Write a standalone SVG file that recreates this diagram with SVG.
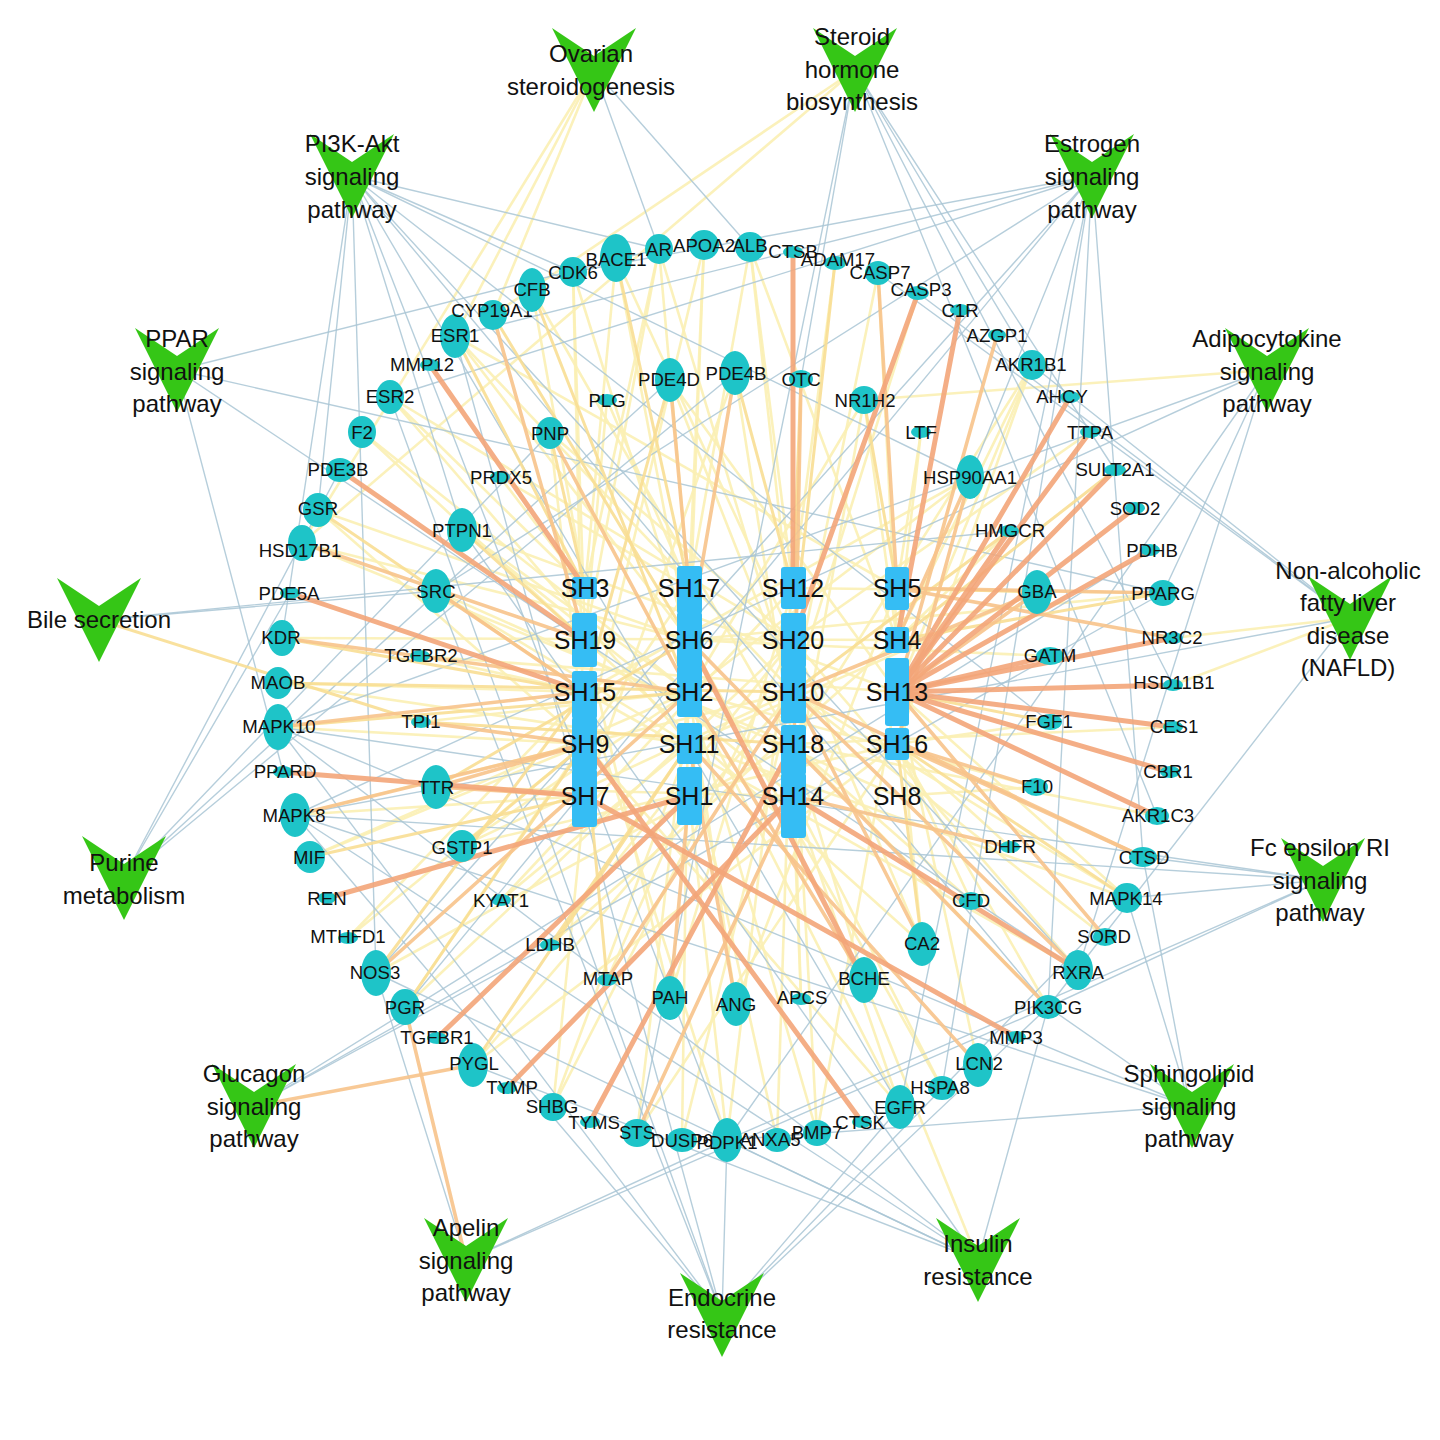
<svg xmlns="http://www.w3.org/2000/svg" width="1440" height="1440" viewBox="0 0 1440 1440">
<style>
text{font-family:"Liberation Sans",Arial,sans-serif;fill:#111;dominant-baseline:central;text-anchor:middle}
.gt{font-size:18.6px}
.st{font-size:25px}
.pt{font-size:24px}
.g{fill:#1ec4c8}
.sh{fill:#35bdf4}
#edges line{fill:none;stroke-linecap:round}
.e{stroke:#a9c5d5;stroke-width:1.4;opacity:.85}
.y1{stroke:#fbefb4;stroke-width:2.6;opacity:.9}
.y2{stroke:#f8de93;stroke-width:3;opacity:.9}
.o1{stroke:#f7c38b;stroke-width:3.6;opacity:.9}
.o2{stroke:#f3a579;stroke-width:5;opacity:.9}
</style>
<defs>
<path id="v" d="M-42,-42 L0,-14 L42,-42 L0,42 Z" fill="#35c616"/>
</defs>
<rect width="1440" height="1440" fill="#fff"/>
<g id="edges">
<!-- pale yellow compound edges -->
<line class="y1" x1="616" y1="258" x2="585" y2="588"/>
<line class="y1" x1="616" y1="258" x2="689" y2="640"/>
<line class="y1" x1="659" y1="249" x2="689" y2="588"/>
<line class="y1" x1="659" y1="249" x2="585" y2="640"/>
<line class="y1" x1="659" y1="249" x2="585" y2="588"/>
<line class="y1" x1="704" y1="245" x2="689" y2="640"/>
<line class="y1" x1="704" y1="245" x2="689" y2="588"/>
<line class="y1" x1="750" y1="247" x2="793" y2="588"/>
<line class="y1" x1="750" y1="247" x2="793" y2="640"/>
<line class="y1" x1="750" y1="247" x2="689" y2="588"/>
<line class="y1" x1="835" y1="263" x2="793" y2="588"/>
<line class="y1" x1="878" y1="273" x2="897" y2="640"/>
<line class="y1" x1="918" y1="293" x2="793" y2="692"/>
<line class="y1" x1="1032" y1="365" x2="897" y2="640"/>
<line class="y1" x1="1032" y1="365" x2="897" y2="692"/>
<line class="y1" x1="1032" y1="365" x2="897" y2="744"/>
<line class="y1" x1="1163" y1="593" x2="793" y2="588"/>
<line class="y1" x1="1127" y1="898" x2="793" y2="692"/>
<line class="y1" x1="1127" y1="898" x2="897" y2="692"/>
<line class="y1" x1="1105" y1="937" x2="793" y2="692"/>
<line class="y1" x1="1078" y1="970" x2="793" y2="640"/>
<line class="y1" x1="1048" y1="1007" x2="793" y2="744"/>
<line class="y1" x1="978" y1="1065" x2="897" y2="692"/>
<line class="y1" x1="942" y1="1088" x2="793" y2="796"/>
<line class="y1" x1="900" y1="1107" x2="793" y2="796"/>
<line class="y1" x1="900" y1="1107" x2="689" y2="692"/>
<line class="y1" x1="817" y1="1133" x2="793" y2="692"/>
<line class="y1" x1="817" y1="1133" x2="689" y2="692"/>
<line class="y1" x1="777" y1="1140" x2="793" y2="640"/>
<line class="y1" x1="777" y1="1140" x2="689" y2="744"/>
<line class="y1" x1="727" y1="1140" x2="689" y2="796"/>
<line class="y1" x1="727" y1="1140" x2="793" y2="588"/>
<line class="y1" x1="682" y1="1140" x2="689" y2="640"/>
<line class="y1" x1="637" y1="1133" x2="689" y2="692"/>
<line class="y1" x1="553" y1="1107" x2="689" y2="744"/>
<line class="y1" x1="553" y1="1107" x2="793" y2="640"/>
<line class="y1" x1="473" y1="1065" x2="793" y2="692"/>
<line class="y1" x1="405" y1="1007" x2="689" y2="588"/>
<line class="y1" x1="348" y1="938" x2="585" y2="744"/>
<line class="y1" x1="348" y1="938" x2="585" y2="692"/>
<line class="y1" x1="310" y1="857" x2="585" y2="744"/>
<line class="y1" x1="295" y1="815" x2="585" y2="796"/>
<line class="y1" x1="278" y1="727" x2="585" y2="744"/>
<line class="y1" x1="278" y1="683" x2="585" y2="692"/>
<line class="y1" x1="302" y1="543" x2="689" y2="640"/>
<line class="y1" x1="318" y1="510" x2="689" y2="640"/>
<line class="y1" x1="362" y1="432" x2="585" y2="640"/>
<line class="y1" x1="362" y1="432" x2="689" y2="692"/>
<line class="y1" x1="390" y1="397" x2="585" y2="588"/>
<line class="y1" x1="390" y1="397" x2="793" y2="640"/>
<line class="y1" x1="455" y1="336" x2="689" y2="640"/>
<line class="y1" x1="455" y1="336" x2="793" y2="692"/>
<line class="y1" x1="532" y1="290" x2="585" y2="588"/>
<line class="y1" x1="573" y1="272" x2="689" y2="640"/>
<line class="y1" x1="573" y1="272" x2="585" y2="640"/>
<line class="y1" x1="670" y1="380" x2="793" y2="692"/>
<line class="y1" x1="735" y1="373" x2="793" y2="744"/>
<line class="y1" x1="801" y1="379" x2="793" y2="692"/>
<line class="y1" x1="864" y1="400" x2="897" y2="640"/>
<line class="y1" x1="864" y1="400" x2="793" y2="796"/>
<line class="y1" x1="921" y1="432" x2="897" y2="588"/>
<line class="y1" x1="921" y1="432" x2="897" y2="640"/>
<line class="y1" x1="970" y1="477" x2="689" y2="692"/>
<line class="y1" x1="1009" y1="531" x2="897" y2="640"/>
<line class="y1" x1="1050" y1="722" x2="897" y2="744"/>
<line class="y1" x1="1036" y1="787" x2="897" y2="796"/>
<line class="y1" x1="1010" y1="847" x2="897" y2="744"/>
<line class="y1" x1="971" y1="901" x2="897" y2="744"/>
<line class="y1" x1="971" y1="901" x2="793" y2="744"/>
<line class="y1" x1="922" y1="944" x2="897" y2="692"/>
<line class="y1" x1="922" y1="944" x2="793" y2="640"/>
<line class="y1" x1="864" y1="980" x2="793" y2="744"/>
<line class="y1" x1="801" y1="999" x2="793" y2="744"/>
<line class="y1" x1="801" y1="999" x2="793" y2="796"/>
<line class="y1" x1="736" y1="1004" x2="689" y2="692"/>
<line class="y1" x1="670" y1="998" x2="793" y2="588"/>
<line class="y1" x1="607" y1="980" x2="689" y2="796"/>
<line class="y1" x1="550" y1="945" x2="793" y2="640"/>
<line class="y1" x1="501" y1="900" x2="689" y2="744"/>
<line class="y1" x1="501" y1="900" x2="793" y2="588"/>
<line class="y1" x1="462" y1="846" x2="689" y2="692"/>
<line class="y1" x1="462" y1="846" x2="793" y2="692"/>
<line class="y1" x1="436" y1="787" x2="793" y2="796"/>
<line class="y1" x1="421" y1="722" x2="689" y2="692"/>
<line class="y1" x1="420" y1="656" x2="585" y2="692"/>
<line class="y1" x1="420" y1="656" x2="897" y2="692"/>
<line class="y1" x1="436" y1="591" x2="689" y2="744"/>
<line class="y1" x1="462" y1="530" x2="689" y2="692"/>
<line class="y1" x1="462" y1="530" x2="897" y2="692"/>
<line class="y1" x1="500" y1="477" x2="585" y2="588"/>
<line class="y1" x1="500" y1="477" x2="689" y2="588"/>
<line class="y1" x1="550" y1="433" x2="585" y2="744"/>
<line class="y1" x1="607" y1="400" x2="689" y2="588"/>
<line class="y1" x1="607" y1="400" x2="585" y2="640"/>
<line class="y1" x1="616" y1="258" x2="793" y2="640"/>
<line class="y1" x1="659" y1="249" x2="793" y2="692"/>
<line class="y1" x1="704" y1="245" x2="585" y2="744"/>
<line class="y1" x1="750" y1="247" x2="897" y2="640"/>
<line class="y1" x1="878" y1="273" x2="793" y2="692"/>
<line class="y1" x1="1032" y1="365" x2="793" y2="744"/>
<line class="y1" x1="1090" y1="432" x2="793" y2="640"/>
<line class="y1" x1="1163" y1="593" x2="689" y2="640"/>
<line class="y1" x1="1173" y1="727" x2="793" y2="744"/>
<line class="y1" x1="1157" y1="816" x2="793" y2="744"/>
<line class="y1" x1="1127" y1="898" x2="689" y2="744"/>
<line class="y1" x1="1078" y1="970" x2="585" y2="692"/>
<line class="y1" x1="1048" y1="1007" x2="897" y2="744"/>
<line class="y1" x1="942" y1="1088" x2="689" y2="640"/>
<line class="y1" x1="900" y1="1107" x2="585" y2="744"/>
<line class="y1" x1="817" y1="1133" x2="897" y2="692"/>
<line class="y1" x1="727" y1="1140" x2="585" y2="692"/>
<line class="y1" x1="682" y1="1140" x2="793" y2="692"/>
<line class="y1" x1="637" y1="1133" x2="897" y2="744"/>
<line class="y1" x1="553" y1="1107" x2="585" y2="796"/>
<line class="y1" x1="473" y1="1065" x2="897" y2="744"/>
<line class="y1" x1="405" y1="1007" x2="793" y2="640"/>
<line class="y1" x1="376" y1="973" x2="793" y2="744"/>
<line class="y1" x1="310" y1="857" x2="689" y2="692"/>
<line class="y1" x1="295" y1="815" x2="793" y2="692"/>
<line class="y1" x1="278" y1="683" x2="689" y2="744"/>
<line class="y1" x1="282" y1="638" x2="897" y2="640"/>
<line class="y1" x1="302" y1="543" x2="793" y2="744"/>
<line class="y1" x1="318" y1="510" x2="585" y2="744"/>
<line class="y1" x1="390" y1="397" x2="689" y2="744"/>
<line class="y1" x1="455" y1="336" x2="897" y2="588"/>
<line class="y1" x1="532" y1="290" x2="793" y2="744"/>
<line class="y1" x1="573" y1="272" x2="585" y2="796"/>
<line class="y1" x1="670" y1="380" x2="897" y2="692"/>
<line class="y1" x1="735" y1="373" x2="585" y2="796"/>
<line class="y1" x1="864" y1="400" x2="689" y2="692"/>
<line class="y1" x1="970" y1="477" x2="585" y2="692"/>
<line class="y1" x1="1037" y1="592" x2="689" y2="744"/>
<line class="y1" x1="1050" y1="656" x2="689" y2="640"/>
<line class="y1" x1="1036" y1="787" x2="689" y2="692"/>
<line class="y1" x1="922" y1="944" x2="585" y2="640"/>
<line class="y1" x1="736" y1="1004" x2="897" y2="588"/>
<line class="y1" x1="670" y1="998" x2="585" y2="640"/>
<line class="y1" x1="550" y1="945" x2="897" y2="640"/>
<line class="y1" x1="462" y1="846" x2="897" y2="744"/>
<line class="y1" x1="436" y1="591" x2="897" y2="796"/>
<line class="y1" x1="462" y1="530" x2="793" y2="796"/>
<line class="y1" x1="550" y1="433" x2="793" y2="640"/>
<line class="y1" x1="594" y1="70" x2="455" y2="336"/>
<line class="y1" x1="594" y1="70" x2="493" y2="315"/>
<line class="y1" x1="594" y1="70" x2="302" y2="543"/>
<line class="y1" x1="855" y1="70" x2="493" y2="315"/>
<line class="y1" x1="855" y1="70" x2="302" y2="543"/>
<line class="y1" x1="1350" y1="618" x2="1173" y2="638"/>
<line class="y1" x1="1350" y1="618" x2="1173" y2="685"/>
<line class="y1" x1="1267" y1="370" x2="864" y2="400"/>
<line class="y1" x1="978" y1="1260" x2="864" y2="980"/>
<!-- pathway edges -->
<line class="e" x1="594" y1="70" x2="750" y2="247"/>
<line class="e" x1="594" y1="70" x2="659" y2="249"/>
<line class="e" x1="855" y1="70" x2="801" y2="379"/>
<line class="e" x1="855" y1="70" x2="1032" y2="365"/>
<line class="e" x1="855" y1="70" x2="1115" y2="470"/>
<line class="e" x1="855" y1="70" x2="1157" y2="816"/>
<line class="e" x1="855" y1="70" x2="1173" y2="685"/>
<line class="e" x1="855" y1="70" x2="637" y2="1133"/>
<line class="e" x1="352" y1="176" x2="573" y2="272"/>
<line class="e" x1="352" y1="176" x2="659" y2="249"/>
<line class="e" x1="352" y1="176" x2="970" y2="477"/>
<line class="e" x1="352" y1="176" x2="1050" y2="722"/>
<line class="e" x1="352" y1="176" x2="282" y2="638"/>
<line class="e" x1="352" y1="176" x2="318" y2="510"/>
<line class="e" x1="352" y1="176" x2="727" y2="1140"/>
<line class="e" x1="352" y1="176" x2="1048" y2="1007"/>
<line class="e" x1="352" y1="176" x2="376" y2="973"/>
<line class="e" x1="352" y1="176" x2="1078" y2="970"/>
<line class="e" x1="352" y1="176" x2="900" y2="1107"/>
<line class="e" x1="352" y1="176" x2="462" y2="530"/>
<line class="e" x1="1092" y1="176" x2="455" y2="336"/>
<line class="e" x1="1092" y1="176" x2="390" y2="397"/>
<line class="e" x1="1092" y1="176" x2="573" y2="272"/>
<line class="e" x1="1092" y1="176" x2="405" y2="1007"/>
<line class="e" x1="1092" y1="176" x2="436" y2="591"/>
<line class="e" x1="1092" y1="176" x2="900" y2="1107"/>
<line class="e" x1="1092" y1="176" x2="970" y2="477"/>
<line class="e" x1="1092" y1="176" x2="942" y2="1088"/>
<line class="e" x1="1092" y1="176" x2="376" y2="973"/>
<line class="e" x1="1092" y1="176" x2="1048" y2="1007"/>
<line class="e" x1="1092" y1="176" x2="1143" y2="857"/>
<line class="e" x1="177" y1="370" x2="1163" y2="593"/>
<line class="e" x1="177" y1="370" x2="283" y2="772"/>
<line class="e" x1="177" y1="370" x2="1078" y2="970"/>
<line class="e" x1="177" y1="370" x2="659" y2="249"/>
<line class="e" x1="1267" y1="370" x2="1163" y2="593"/>
<line class="e" x1="1267" y1="370" x2="1078" y2="970"/>
<line class="e" x1="1267" y1="370" x2="295" y2="815"/>
<line class="e" x1="1267" y1="370" x2="278" y2="727"/>
<line class="e" x1="1267" y1="370" x2="727" y2="1140"/>
<line class="e" x1="99" y1="620" x2="436" y2="591"/>
<line class="e" x1="99" y1="620" x2="1009" y2="531"/>
<line class="e" x1="1350" y1="618" x2="1032" y2="365"/>
<line class="e" x1="1350" y1="618" x2="918" y2="293"/>
<line class="e" x1="1350" y1="618" x2="878" y2="273"/>
<line class="e" x1="1350" y1="618" x2="295" y2="815"/>
<line class="e" x1="1350" y1="618" x2="1048" y2="1007"/>
<line class="e" x1="124" y1="878" x2="550" y2="433"/>
<line class="e" x1="124" y1="878" x2="670" y2="380"/>
<line class="e" x1="124" y1="878" x2="735" y2="373"/>
<line class="e" x1="124" y1="878" x2="290" y2="593"/>
<line class="e" x1="124" y1="878" x2="340" y2="470"/>
<line class="e" x1="1323" y1="880" x2="1127" y2="898"/>
<line class="e" x1="1323" y1="880" x2="1143" y2="857"/>
<line class="e" x1="1323" y1="880" x2="295" y2="815"/>
<line class="e" x1="1323" y1="880" x2="278" y2="727"/>
<line class="e" x1="1323" y1="880" x2="1048" y2="1007"/>
<line class="e" x1="1323" y1="880" x2="727" y2="1140"/>
<line class="e" x1="254" y1="1106" x2="550" y2="945"/>
<line class="e" x1="254" y1="1106" x2="1150" y2="550"/>
<line class="e" x1="254" y1="1106" x2="1163" y2="593"/>
<line class="e" x1="1190" y1="1106" x2="1127" y2="898"/>
<line class="e" x1="1190" y1="1106" x2="1143" y2="857"/>
<line class="e" x1="1190" y1="1106" x2="295" y2="815"/>
<line class="e" x1="1190" y1="1106" x2="278" y2="727"/>
<line class="e" x1="1190" y1="1106" x2="1048" y2="1007"/>
<line class="e" x1="1190" y1="1106" x2="727" y2="1140"/>
<line class="e" x1="466" y1="1260" x2="376" y2="973"/>
<line class="e" x1="466" y1="1260" x2="727" y2="1140"/>
<line class="e" x1="466" y1="1260" x2="1048" y2="1007"/>
<line class="e" x1="978" y1="1260" x2="462" y2="530"/>
<line class="e" x1="978" y1="1260" x2="727" y2="1140"/>
<line class="e" x1="978" y1="1260" x2="473" y2="1065"/>
<line class="e" x1="978" y1="1260" x2="295" y2="815"/>
<line class="e" x1="978" y1="1260" x2="278" y2="727"/>
<line class="e" x1="978" y1="1260" x2="1048" y2="1007"/>
<line class="e" x1="978" y1="1260" x2="376" y2="973"/>
<line class="e" x1="722" y1="1315" x2="455" y2="336"/>
<line class="e" x1="722" y1="1315" x2="390" y2="397"/>
<line class="e" x1="722" y1="1315" x2="900" y2="1107"/>
<line class="e" x1="722" y1="1315" x2="295" y2="815"/>
<line class="e" x1="722" y1="1315" x2="278" y2="727"/>
<line class="e" x1="722" y1="1315" x2="1127" y2="898"/>
<line class="e" x1="722" y1="1315" x2="727" y2="1140"/>
<line class="e" x1="722" y1="1315" x2="1048" y2="1007"/>
<line class="e" x1="722" y1="1315" x2="436" y2="591"/>
<!-- yellow compound edges -->
<line class="y2" x1="616" y1="258" x2="689" y2="588"/>
<line class="y2" x1="835" y1="263" x2="793" y2="640"/>
<line class="y2" x1="1163" y1="593" x2="897" y2="640"/>
<line class="y2" x1="1127" y1="898" x2="897" y2="744"/>
<line class="y2" x1="473" y1="1065" x2="689" y2="744"/>
<line class="y2" x1="405" y1="1007" x2="585" y2="744"/>
<line class="y2" x1="376" y1="973" x2="585" y2="692"/>
<line class="y2" x1="310" y1="857" x2="585" y2="796"/>
<line class="y2" x1="278" y1="727" x2="689" y2="692"/>
<line class="y2" x1="278" y1="683" x2="793" y2="692"/>
<line class="y2" x1="282" y1="638" x2="585" y2="692"/>
<line class="y2" x1="318" y1="510" x2="585" y2="692"/>
<line class="y2" x1="455" y1="336" x2="585" y2="588"/>
<line class="y2" x1="493" y1="315" x2="689" y2="640"/>
<line class="y2" x1="532" y1="290" x2="689" y2="692"/>
<line class="y2" x1="670" y1="380" x2="585" y2="692"/>
<line class="y2" x1="735" y1="373" x2="793" y2="588"/>
<line class="y2" x1="801" y1="379" x2="793" y2="588"/>
<line class="y2" x1="864" y1="400" x2="897" y2="588"/>
<line class="y2" x1="1037" y1="592" x2="897" y2="588"/>
<line class="y2" x1="1050" y1="722" x2="897" y2="692"/>
<line class="y2" x1="550" y1="945" x2="689" y2="744"/>
<line class="y2" x1="462" y1="846" x2="585" y2="744"/>
<line class="y2" x1="462" y1="530" x2="585" y2="640"/>
<line class="y2" x1="550" y1="433" x2="585" y2="588"/>
<line class="y2" x1="99" y1="620" x2="421" y2="722"/>
<line class="y2" x1="1115" y1="470" x2="897" y2="640"/>
<line class="y2" x1="1009" y1="531" x2="793" y2="692"/>
<line class="y2" x1="922" y1="944" x2="897" y2="744"/>
<line class="y2" x1="607" y1="980" x2="585" y2="744"/>
<line class="y2" x1="436" y1="787" x2="689" y2="640"/>
<line class="y2" x1="421" y1="722" x2="793" y2="744"/>
<!-- light orange compound edges -->
<line class="o1" x1="878" y1="273" x2="897" y2="588"/>
<line class="o1" x1="997" y1="335" x2="897" y2="692"/>
<line class="o1" x1="1163" y1="593" x2="897" y2="588"/>
<line class="o1" x1="1173" y1="638" x2="897" y2="588"/>
<line class="o1" x1="1143" y1="857" x2="897" y2="744"/>
<line class="o1" x1="1143" y1="857" x2="793" y2="692"/>
<line class="o1" x1="1105" y1="937" x2="897" y2="692"/>
<line class="o1" x1="1078" y1="970" x2="793" y2="692"/>
<line class="o1" x1="1048" y1="1007" x2="689" y2="640"/>
<line class="o1" x1="978" y1="1065" x2="689" y2="744"/>
<line class="o1" x1="637" y1="1133" x2="793" y2="796"/>
<line class="o1" x1="376" y1="973" x2="689" y2="692"/>
<line class="o1" x1="295" y1="815" x2="585" y2="744"/>
<line class="o1" x1="278" y1="727" x2="585" y2="692"/>
<line class="o1" x1="282" y1="638" x2="689" y2="692"/>
<line class="o1" x1="302" y1="543" x2="585" y2="640"/>
<line class="o1" x1="493" y1="315" x2="585" y2="640"/>
<line class="o1" x1="670" y1="380" x2="689" y2="588"/>
<line class="o1" x1="735" y1="373" x2="689" y2="640"/>
<line class="o1" x1="801" y1="379" x2="793" y2="796"/>
<line class="o1" x1="970" y1="477" x2="897" y2="640"/>
<line class="o1" x1="970" y1="477" x2="897" y2="744"/>
<line class="o1" x1="1037" y1="592" x2="897" y2="692"/>
<line class="o1" x1="1037" y1="592" x2="793" y2="692"/>
<line class="o1" x1="1036" y1="787" x2="897" y2="744"/>
<line class="o1" x1="1010" y1="847" x2="793" y2="796"/>
<line class="o1" x1="922" y1="944" x2="793" y2="692"/>
<line class="o1" x1="864" y1="980" x2="689" y2="692"/>
<line class="o1" x1="736" y1="1004" x2="689" y2="744"/>
<line class="o1" x1="670" y1="998" x2="689" y2="796"/>
<line class="o1" x1="607" y1="980" x2="793" y2="692"/>
<line class="o1" x1="436" y1="787" x2="585" y2="796"/>
<line class="o1" x1="436" y1="787" x2="585" y2="744"/>
<line class="o1" x1="421" y1="722" x2="585" y2="744"/>
<line class="o1" x1="436" y1="591" x2="585" y2="692"/>
<line class="o1" x1="550" y1="433" x2="689" y2="692"/>
<line class="o1" x1="254" y1="1106" x2="473" y2="1065"/>
<line class="o1" x1="466" y1="1260" x2="405" y2="1007"/>
<!-- orange compound edges -->
<line class="o2" x1="793" y1="252" x2="793" y2="588"/>
<line class="o2" x1="918" y1="293" x2="793" y2="640"/>
<line class="o2" x1="960" y1="310" x2="897" y2="640"/>
<line class="o2" x1="1070" y1="397" x2="897" y2="692"/>
<line class="o2" x1="1090" y1="432" x2="897" y2="692"/>
<line class="o2" x1="1115" y1="470" x2="897" y2="692"/>
<line class="o2" x1="1135" y1="508" x2="897" y2="692"/>
<line class="o2" x1="1150" y1="550" x2="897" y2="692"/>
<line class="o2" x1="1173" y1="638" x2="897" y2="692"/>
<line class="o2" x1="1173" y1="685" x2="897" y2="692"/>
<line class="o2" x1="1173" y1="727" x2="897" y2="692"/>
<line class="o2" x1="1170" y1="772" x2="897" y2="692"/>
<line class="o2" x1="1157" y1="816" x2="897" y2="692"/>
<line class="o2" x1="1050" y1="656" x2="897" y2="692"/>
<line class="o2" x1="1009" y1="531" x2="897" y2="692"/>
<line class="o2" x1="1016" y1="1037" x2="585" y2="796"/>
<line class="o2" x1="862" y1="1122" x2="585" y2="744"/>
<line class="o2" x1="590" y1="1122" x2="793" y2="744"/>
<line class="o2" x1="507" y1="1088" x2="793" y2="796"/>
<line class="o2" x1="437" y1="1038" x2="689" y2="796"/>
<line class="o2" x1="327" y1="898" x2="689" y2="796"/>
<line class="o2" x1="283" y1="772" x2="585" y2="796"/>
<line class="o2" x1="290" y1="593" x2="585" y2="692"/>
<line class="o2" x1="340" y1="470" x2="585" y2="640"/>
<line class="o2" x1="430" y1="365" x2="585" y2="588"/>
<line class="o2" x1="1078" y1="970" x2="793" y2="796"/>
<line class="o2" x1="864" y1="980" x2="689" y2="640"/>
</g>
<g id="compounds">
<g id="SH3"><rect class="sh" x="572" y="577" width="25" height="22" rx="3"/><text class="st" x="585" y="588">SH3</text></g>
<g id="SH19"><rect class="sh" x="572" y="613" width="25" height="54" rx="3"/><text class="st" x="585" y="640">SH19</text></g>
<g id="SH15"><rect class="sh" x="572" y="671" width="25" height="48" rx="3"/><text class="st" x="585" y="692">SH15</text></g>
<g id="SH9"><rect class="sh" x="572" y="717" width="25" height="54" rx="3"/><text class="st" x="585" y="744">SH9</text></g>
<g id="SH7"><rect class="sh" x="572" y="769" width="25" height="58" rx="3"/><text class="st" x="585" y="796">SH7</text></g>
<g id="SH17"><rect class="sh" x="677" y="566" width="25" height="48" rx="3"/><text class="st" x="689" y="588">SH17</text></g>
<g id="SH6"><rect class="sh" x="677" y="612" width="25" height="56" rx="3"/><text class="st" x="689" y="640">SH6</text></g>
<g id="SH2"><rect class="sh" x="677" y="666" width="25" height="51" rx="3"/><text class="st" x="689" y="692">SH2</text></g>
<g id="SH11"><rect class="sh" x="677" y="723" width="25" height="41" rx="3"/><text class="st" x="689" y="744">SH11</text></g>
<g id="SH1"><rect class="sh" x="677" y="767" width="25" height="58" rx="3"/><text class="st" x="689" y="796">SH1</text></g>
<g id="SH12"><rect class="sh" x="781" y="567" width="25" height="42" rx="3"/><text class="st" x="793" y="588">SH12</text></g>
<g id="SH20"><rect class="sh" x="781" y="613" width="25" height="55" rx="3"/><text class="st" x="793" y="640">SH20</text></g>
<g id="SH10"><rect class="sh" x="781" y="666" width="25" height="57" rx="3"/><text class="st" x="793" y="692">SH10</text></g>
<g id="SH18"><rect class="sh" x="781" y="725" width="25" height="50" rx="3"/><text class="st" x="793" y="744">SH18</text></g>
<g id="SH14"><rect class="sh" x="781" y="773" width="25" height="65" rx="3"/><text class="st" x="793" y="796">SH14</text></g>
<g id="SH5"><rect class="sh" x="885" y="567" width="24" height="43" rx="3"/><text class="st" x="897" y="588">SH5</text></g>
<g id="SH4"><rect class="sh" x="885" y="627" width="24" height="26" rx="3"/><text class="st" x="897" y="640">SH4</text></g>
<g id="SH13"><rect class="sh" x="885" y="658" width="24" height="68" rx="3"/><text class="st" x="897" y="692">SH13</text></g>
<g id="SH16"><rect class="sh" x="885" y="728" width="24" height="32" rx="3"/><text class="st" x="897" y="744">SH16</text></g>
<g id="SH8"><text class="st" x="897" y="796">SH8</text></g>
</g>
<g id="genes">
<g id="BACE1"><ellipse class="g" cx="616" cy="258" rx="16" ry="24"/><text class="gt" x="616" y="259">BACE1</text></g>
<g id="AR"><ellipse class="g" cx="659" cy="249" rx="14" ry="15"/><text class="gt" x="659" y="249">AR</text></g>
<g id="APOA2"><ellipse class="g" cx="704" cy="245" rx="15" ry="15"/><text class="gt" x="704" y="245">APOA2</text></g>
<g id="ALB"><ellipse class="g" cx="750" cy="247" rx="15" ry="15"/><text class="gt" x="750" y="245">ALB</text></g>
<g id="CTSB"><ellipse class="g" cx="793" cy="252" rx="10" ry="6"/><text class="gt" x="793" y="251">CTSB</text></g>
<g id="ADAM17"><ellipse class="g" cx="835" cy="263" rx="11" ry="7"/><text class="gt" x="838" y="259">ADAM17</text></g>
<g id="CASP7"><ellipse class="g" cx="878" cy="273" rx="13" ry="12"/><text class="gt" x="880" y="272">CASP7</text></g>
<g id="CASP3"><ellipse class="g" cx="918" cy="293" rx="11" ry="7"/><text class="gt" x="921" y="289">CASP3</text></g>
<g id="C1R"><ellipse class="g" cx="960" cy="310" rx="10" ry="6"/><text class="gt" x="960" y="310">C1R</text></g>
<g id="AZGP1"><ellipse class="g" cx="997" cy="335" rx="9" ry="6"/><text class="gt" x="997" y="335">AZGP1</text></g>
<g id="AKR1B1"><ellipse class="g" cx="1032" cy="365" rx="14" ry="15"/><text class="gt" x="1031" y="364">AKR1B1</text></g>
<g id="AHCY"><ellipse class="g" cx="1070" cy="397" rx="10" ry="6"/><text class="gt" x="1062" y="396">AHCY</text></g>
<g id="TTPA"><ellipse class="g" cx="1090" cy="432" rx="10" ry="6"/><text class="gt" x="1090" y="432">TTPA</text></g>
<g id="SULT2A1"><ellipse class="g" cx="1115" cy="470" rx="11" ry="6"/><text class="gt" x="1115" y="469">SULT2A1</text></g>
<g id="SOD2"><ellipse class="g" cx="1135" cy="508" rx="10" ry="6"/><text class="gt" x="1135" y="508">SOD2</text></g>
<g id="PDHB"><ellipse class="g" cx="1150" cy="550" rx="10" ry="6"/><text class="gt" x="1152" y="550">PDHB</text></g>
<g id="PPARG"><ellipse class="g" cx="1163" cy="593" rx="14" ry="13"/><text class="gt" x="1163" y="593">PPARG</text></g>
<g id="NR3C2"><ellipse class="g" cx="1173" cy="638" rx="10" ry="6"/><text class="gt" x="1172" y="637">NR3C2</text></g>
<g id="HSD11B1"><ellipse class="g" cx="1173" cy="685" rx="10" ry="6"/><text class="gt" x="1174" y="682">HSD11B1</text></g>
<g id="CES1"><ellipse class="g" cx="1173" cy="727" rx="10" ry="6"/><text class="gt" x="1174" y="726">CES1</text></g>
<g id="CBR1"><ellipse class="g" cx="1170" cy="772" rx="10" ry="6"/><text class="gt" x="1168" y="771">CBR1</text></g>
<g id="AKR1C3"><ellipse class="g" cx="1157" cy="816" rx="12" ry="9"/><text class="gt" x="1158" y="815">AKR1C3</text></g>
<g id="CTSD"><ellipse class="g" cx="1143" cy="857" rx="14" ry="10"/><text class="gt" x="1144" y="857">CTSD</text></g>
<g id="MAPK14"><ellipse class="g" cx="1127" cy="898" rx="15" ry="15"/><text class="gt" x="1126" y="898">MAPK14</text></g>
<g id="SORD"><ellipse class="g" cx="1105" cy="937" rx="12" ry="9"/><text class="gt" x="1104" y="936">SORD</text></g>
<g id="RXRA"><ellipse class="g" cx="1078" cy="970" rx="15" ry="20"/><text class="gt" x="1078" y="972">RXRA</text></g>
<g id="PIK3CG"><ellipse class="g" cx="1048" cy="1007" rx="14" ry="12"/><text class="gt" x="1048" y="1007">PIK3CG</text></g>
<g id="MMP3"><ellipse class="g" cx="1016" cy="1037" rx="10" ry="6"/><text class="gt" x="1016" y="1037">MMP3</text></g>
<g id="LCN2"><ellipse class="g" cx="978" cy="1065" rx="15" ry="22"/><text class="gt" x="979" y="1063">LCN2</text></g>
<g id="HSPA8"><ellipse class="g" cx="942" cy="1088" rx="14" ry="12"/><text class="gt" x="940" y="1087">HSPA8</text></g>
<g id="EGFR"><ellipse class="g" cx="900" cy="1107" rx="15" ry="22"/><text class="gt" x="900" y="1107">EGFR</text></g>
<g id="CTSK"><ellipse class="g" cx="862" cy="1122" rx="10" ry="6"/><text class="gt" x="860" y="1122">CTSK</text></g>
<g id="BMP7"><ellipse class="g" cx="817" cy="1133" rx="14" ry="13"/><text class="gt" x="817" y="1132">BMP7</text></g>
<g id="ANXA5"><ellipse class="g" cx="777" cy="1140" rx="14" ry="12"/><text class="gt" x="770" y="1139">ANXA5</text></g>
<g id="PDPK1"><ellipse class="g" cx="727" cy="1140" rx="15" ry="22"/><text class="gt" x="727" y="1142">PDPK1</text></g>
<g id="DUSP6"><ellipse class="g" cx="682" cy="1140" rx="15" ry="12"/><text class="gt" x="682" y="1140">DUSP6</text></g>
<g id="STS"><ellipse class="g" cx="637" cy="1133" rx="15" ry="14"/><text class="gt" x="637" y="1132">STS</text></g>
<g id="TYMS"><ellipse class="g" cx="590" cy="1122" rx="10" ry="6"/><text class="gt" x="594" y="1122">TYMS</text></g>
<g id="SHBG"><ellipse class="g" cx="553" cy="1107" rx="14" ry="14"/><text class="gt" x="552" y="1106">SHBG</text></g>
<g id="TYMP"><ellipse class="g" cx="507" cy="1088" rx="10" ry="6"/><text class="gt" x="512" y="1087">TYMP</text></g>
<g id="PYGL"><ellipse class="g" cx="473" cy="1065" rx="15" ry="22"/><text class="gt" x="474" y="1063">PYGL</text></g>
<g id="TGFBR1"><ellipse class="g" cx="437" cy="1038" rx="10" ry="6"/><text class="gt" x="437" y="1037">TGFBR1</text></g>
<g id="PGR"><ellipse class="g" cx="405" cy="1007" rx="15" ry="18"/><text class="gt" x="405" y="1007">PGR</text></g>
<g id="NOS3"><ellipse class="g" cx="376" cy="973" rx="15" ry="23"/><text class="gt" x="375" y="972">NOS3</text></g>
<g id="MTHFD1"><ellipse class="g" cx="348" cy="938" rx="10" ry="6"/><text class="gt" x="348" y="936">MTHFD1</text></g>
<g id="REN"><ellipse class="g" cx="327" cy="898" rx="9" ry="6"/><text class="gt" x="327" y="898">REN</text></g>
<g id="MIF"><ellipse class="g" cx="310" cy="857" rx="15" ry="16"/><text class="gt" x="309" y="857">MIF</text></g>
<g id="MAPK8"><ellipse class="g" cx="295" cy="815" rx="15" ry="22"/><text class="gt" x="294" y="815">MAPK8</text></g>
<g id="PPARD"><ellipse class="g" cx="283" cy="772" rx="10" ry="6"/><text class="gt" x="285" y="771">PPARD</text></g>
<g id="MAPK10"><ellipse class="g" cx="278" cy="727" rx="15" ry="23"/><text class="gt" x="279" y="726">MAPK10</text></g>
<g id="MAOB"><ellipse class="g" cx="278" cy="683" rx="14" ry="16"/><text class="gt" x="278" y="682">MAOB</text></g>
<g id="KDR"><ellipse class="g" cx="282" cy="638" rx="14" ry="18"/><text class="gt" x="281" y="637">KDR</text></g>
<g id="PDE5A"><ellipse class="g" cx="290" cy="593" rx="10" ry="6"/><text class="gt" x="289" y="593">PDE5A</text></g>
<g id="HSD17B1"><ellipse class="g" cx="302" cy="543" rx="14" ry="18"/><text class="gt" x="300" y="550">HSD17B1</text></g>
<g id="GSR"><ellipse class="g" cx="318" cy="510" rx="15" ry="17"/><text class="gt" x="318" y="508">GSR</text></g>
<g id="PDE3B"><ellipse class="g" cx="340" cy="470" rx="14" ry="12"/><text class="gt" x="338" y="469">PDE3B</text></g>
<g id="F2"><ellipse class="g" cx="362" cy="432" rx="14" ry="16"/><text class="gt" x="362" y="432">F2</text></g>
<g id="ESR2"><ellipse class="g" cx="390" cy="397" rx="14" ry="17"/><text class="gt" x="390" y="396">ESR2</text></g>
<g id="MMP12"><ellipse class="g" cx="430" cy="365" rx="10" ry="6"/><text class="gt" x="422" y="364">MMP12</text></g>
<g id="ESR1"><ellipse class="g" cx="455" cy="336" rx="15" ry="22"/><text class="gt" x="455" y="335">ESR1</text></g>
<g id="CYP19A1"><ellipse class="g" cx="493" cy="315" rx="14" ry="15"/><text class="gt" x="492" y="310">CYP19A1</text></g>
<g id="CFB"><ellipse class="g" cx="532" cy="290" rx="14" ry="22"/><text class="gt" x="532" y="289">CFB</text></g>
<g id="CDK6"><ellipse class="g" cx="573" cy="272" rx="14" ry="15"/><text class="gt" x="573" y="272">CDK6</text></g>
<g id="PDE4D"><ellipse class="g" cx="670" cy="380" rx="15" ry="22"/><text class="gt" x="669" y="379">PDE4D</text></g>
<g id="PDE4B"><ellipse class="g" cx="735" cy="373" rx="15" ry="22"/><text class="gt" x="736" y="373">PDE4B</text></g>
<g id="OTC"><ellipse class="g" cx="801" cy="379" rx="12" ry="9"/><text class="gt" x="801" y="379">OTC</text></g>
<g id="NR1H2"><ellipse class="g" cx="864" cy="400" rx="14" ry="14"/><text class="gt" x="865" y="400">NR1H2</text></g>
<g id="LTF"><ellipse class="g" cx="921" cy="432" rx="10" ry="6"/><text class="gt" x="921" y="432">LTF</text></g>
<g id="HSP90AA1"><ellipse class="g" cx="970" cy="477" rx="14" ry="22"/><text class="gt" x="970" y="477">HSP90AA1</text></g>
<g id="HMGCR"><ellipse class="g" cx="1009" cy="531" rx="10" ry="6"/><text class="gt" x="1010" y="530">HMGCR</text></g>
<g id="GBA"><ellipse class="g" cx="1037" cy="592" rx="15" ry="22"/><text class="gt" x="1037" y="591">GBA</text></g>
<g id="GATM"><ellipse class="g" cx="1050" cy="656" rx="14" ry="9"/><text class="gt" x="1050" y="655">GATM</text></g>
<g id="FGF1"><ellipse class="g" cx="1050" cy="722" rx="12" ry="8"/><text class="gt" x="1049" y="721">FGF1</text></g>
<g id="F10"><ellipse class="g" cx="1036" cy="787" rx="12" ry="9"/><text class="gt" x="1037" y="786">F10</text></g>
<g id="DHFR"><ellipse class="g" cx="1010" cy="847" rx="10" ry="6"/><text class="gt" x="1010" y="846">DHFR</text></g>
<g id="CFD"><ellipse class="g" cx="971" cy="901" rx="12" ry="9"/><text class="gt" x="971" y="900">CFD</text></g>
<g id="CA2"><ellipse class="g" cx="922" cy="944" rx="15" ry="22"/><text class="gt" x="922" y="943">CA2</text></g>
<g id="BCHE"><ellipse class="g" cx="864" cy="980" rx="15" ry="23"/><text class="gt" x="864" y="978">BCHE</text></g>
<g id="APCS"><ellipse class="g" cx="801" cy="999" rx="10" ry="6"/><text class="gt" x="802" y="997">APCS</text></g>
<g id="ANG"><ellipse class="g" cx="736" cy="1004" rx="15" ry="22"/><text class="gt" x="736" y="1004">ANG</text></g>
<g id="PAH"><ellipse class="g" cx="670" cy="998" rx="15" ry="22"/><text class="gt" x="670" y="997">PAH</text></g>
<g id="MTAP"><ellipse class="g" cx="607" cy="980" rx="10" ry="6"/><text class="gt" x="608" y="978">MTAP</text></g>
<g id="LDHB"><ellipse class="g" cx="550" cy="945" rx="10" ry="6"/><text class="gt" x="550" y="944">LDHB</text></g>
<g id="KYAT1"><ellipse class="g" cx="501" cy="900" rx="10" ry="6"/><text class="gt" x="501" y="900">KYAT1</text></g>
<g id="GSTP1"><ellipse class="g" cx="462" cy="846" rx="15" ry="16"/><text class="gt" x="462" y="847">GSTP1</text></g>
<g id="TTR"><ellipse class="g" cx="436" cy="787" rx="15" ry="22"/><text class="gt" x="436" y="787">TTR</text></g>
<g id="TPI1"><ellipse class="g" cx="421" cy="722" rx="10" ry="6"/><text class="gt" x="421" y="721">TPI1</text></g>
<g id="TGFBR2"><ellipse class="g" cx="420" cy="656" rx="10" ry="6"/><text class="gt" x="421" y="655">TGFBR2</text></g>
<g id="SRC"><ellipse class="g" cx="436" cy="591" rx="15" ry="22"/><text class="gt" x="436" y="591">SRC</text></g>
<g id="PTPN1"><ellipse class="g" cx="462" cy="530" rx="15" ry="22"/><text class="gt" x="462" y="530">PTPN1</text></g>
<g id="PRDX5"><ellipse class="g" cx="500" cy="477" rx="10" ry="6"/><text class="gt" x="501" y="477">PRDX5</text></g>
<g id="PNP"><ellipse class="g" cx="550" cy="433" rx="14" ry="16"/><text class="gt" x="550" y="433">PNP</text></g>
<g id="PLG"><ellipse class="g" cx="607" cy="400" rx="10" ry="6"/><text class="gt" x="607" y="400">PLG</text></g>
</g>
<g id="pathways">
<g id="p-ovarian"><use href="#v" x="594" y="70"/><text class="pt" x="591" y="53">Ovarian</text><text class="pt" x="591" y="86">steroidogenesis</text></g>
<g id="p-steroid"><use href="#v" x="855" y="70"/><text class="pt" x="852" y="36">Steroid</text><text class="pt" x="852" y="69">hormone</text><text class="pt" x="852" y="101">biosynthesis</text></g>
<g id="p-pi3k"><use href="#v" x="352" y="176"/><text class="pt" x="352" y="143">PI3K-Akt</text><text class="pt" x="352" y="176">signaling</text><text class="pt" x="352" y="209">pathway</text></g>
<g id="p-estrogen"><use href="#v" x="1092" y="176"/><text class="pt" x="1092" y="143">Estrogen</text><text class="pt" x="1092" y="176">signaling</text><text class="pt" x="1092" y="209">pathway</text></g>
<g id="p-ppar"><use href="#v" x="177" y="370"/><text class="pt" x="177" y="338">PPAR</text><text class="pt" x="177" y="371">signaling</text><text class="pt" x="177" y="403">pathway</text></g>
<g id="p-adipo"><use href="#v" x="1267" y="370"/><text class="pt" x="1267" y="338">Adipocytokine</text><text class="pt" x="1267" y="371">signaling</text><text class="pt" x="1267" y="403">pathway</text></g>
<g id="p-bile"><use href="#v" x="99" y="620"/><text class="pt" x="99" y="619">Bile secretion</text></g>
<g id="p-nafld"><use href="#v" x="1350" y="618"/><text class="pt" x="1348" y="570">Non-alcoholic</text><text class="pt" x="1348" y="602">fatty liver</text><text class="pt" x="1348" y="635">disease</text><text class="pt" x="1348" y="667">(NAFLD)</text></g>
<g id="p-purine"><use href="#v" x="124" y="878"/><text class="pt" x="124" y="862">Purine</text><text class="pt" x="124" y="895">metabolism</text></g>
<g id="p-fc"><use href="#v" x="1323" y="880"/><text class="pt" x="1320" y="847">Fc epsilon RI</text><text class="pt" x="1320" y="880">signaling</text><text class="pt" x="1320" y="912">pathway</text></g>
<g id="p-glucagon"><use href="#v" x="254" y="1106"/><text class="pt" x="254" y="1073">Glucagon</text><text class="pt" x="254" y="1106">signaling</text><text class="pt" x="254" y="1138">pathway</text></g>
<g id="p-sphingo"><use href="#v" x="1192" y="1106"/><text class="pt" x="1189" y="1073">Sphingolipid</text><text class="pt" x="1189" y="1106">signaling</text><text class="pt" x="1189" y="1138">pathway</text></g>
<g id="p-apelin"><use href="#v" x="466" y="1260"/><text class="pt" x="466" y="1227">Apelin</text><text class="pt" x="466" y="1260">signaling</text><text class="pt" x="466" y="1292">pathway</text></g>
<g id="p-insulin"><use href="#v" x="978" y="1260"/><text class="pt" x="978" y="1243">Insulin</text><text class="pt" x="978" y="1276">resistance</text></g>
<g id="p-endocrine"><use href="#v" x="722" y="1315"/><text class="pt" x="722" y="1297">Endocrine</text><text class="pt" x="722" y="1329">resistance</text></g>
</g>
</svg>
